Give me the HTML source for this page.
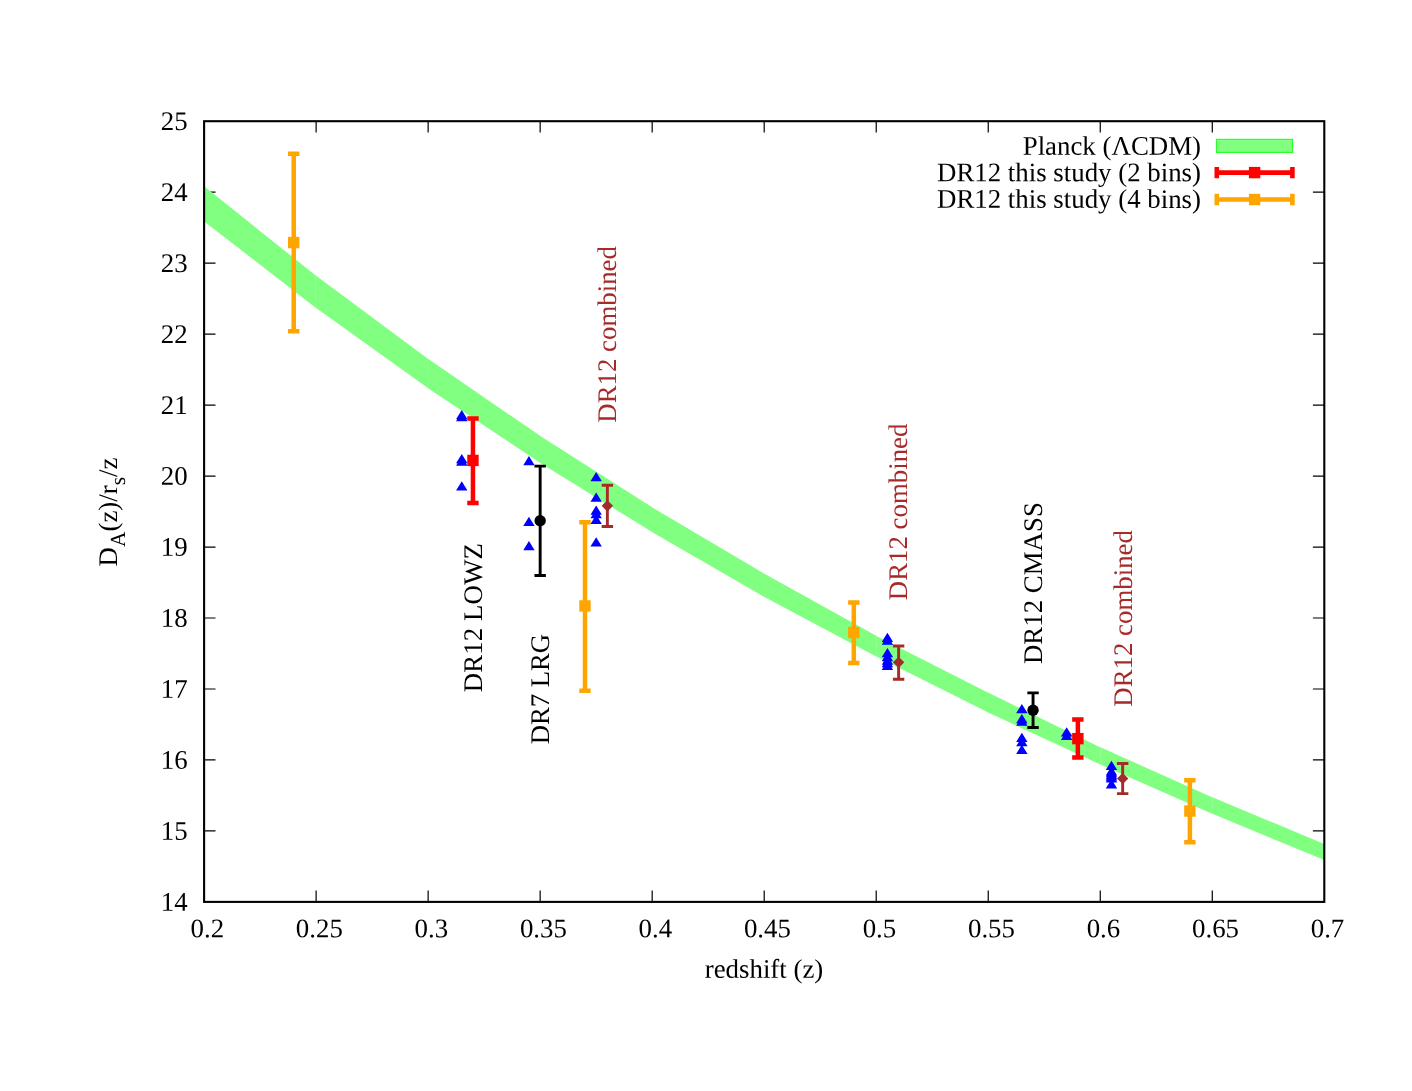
<!DOCTYPE html>
<html><head><meta charset="utf-8"><title>DA(z)/rs/z vs redshift</title>
<style>html,body{margin:0;padding:0;background:#fff}body{width:1412px;height:1091px;overflow:hidden;font-family:"Liberation Serif",serif}</style>
</head><body>
<svg width="1412" height="1091" viewBox="0 0 1412 1091" style="display:block;will-change:transform;font-family:'Liberation Serif',serif;font-size:26.85px;font-kerning:none;text-rendering:geometricPrecision">
<rect width="1412" height="1091" fill="#fff"/>
<path d="M316.12 901.9V890.50M316.12 121.2V132.60M428.14 901.9V890.50M428.14 121.2V132.60M540.16 901.9V890.50M540.16 121.2V132.60M652.18 901.9V890.50M652.18 121.2V132.60M764.20 901.9V890.50M764.20 121.2V132.60M876.22 901.9V890.50M876.22 121.2V132.60M988.24 901.9V890.50M988.24 121.2V132.60M1100.26 901.9V890.50M1100.26 121.2V132.60M1212.28 901.9V890.50M1212.28 121.2V132.60M204.1 830.93H215.50M1324.3 830.93H1312.90M204.1 759.95H215.50M1324.3 759.95H1312.90M204.1 688.98H215.50M1324.3 688.98H1312.90M204.1 618.01H215.50M1324.3 618.01H1312.90M204.1 547.04H215.50M1324.3 547.04H1312.90M204.1 476.06H215.50M1324.3 476.06H1312.90M204.1 405.09H215.50M1324.3 405.09H1312.90M204.1 334.12H215.50M1324.3 334.12H1312.90M204.1 263.15H215.50M1324.3 263.15H1312.90M204.1 192.17H215.50M1324.3 192.17H1312.90" stroke="#000" stroke-width="1.2" fill="none"/>
<path d="M204.1 186.3L315.70 275.50L315.70 307.69L204.1 221.4z" fill="#80ff80"/>
<path d="M315.45 275.3L427.90 358.79L427.90 388.08L315.45 307.5z" fill="#80ff80"/>
<path d="M427.65 358.6L540.10 435.87L540.10 462.87L427.65 387.9z" fill="#80ff80"/>
<path d="M539.85 435.7L652.15 507.36L652.15 532.05L539.85 462.7z" fill="#80ff80"/>
<path d="M651.9 507.2L764.22 573.75L764.22 596.94L651.9 531.9z" fill="#80ff80"/>
<path d="M763.97 573.6L876.65 636.04L876.65 656.63L763.97 596.8z" fill="#80ff80"/>
<path d="M876.4 635.9L988.25 692.73L988.25 712.53L876.4 656.5z" fill="#80ff80"/>
<path d="M988.0 692.6L1100.65 747.42L1100.65 764.62L988.0 712.4z" fill="#80ff80"/>
<path d="M1100.4 747.3L1212.65 797.41L1212.65 813.91L1100.4 764.5z" fill="#80ff80"/>
<path d="M1212.4 797.3L1324.30 844.00L1324.30 860.10L1212.4 813.8z" fill="#80ff80"/>
<path d="M472.95 503.03V418.58M467.25 503.03h11.4M467.25 418.58h11.4" stroke="#ff0000" stroke-width="4.5" fill="none"/><rect x="467.25" y="454.75" width="11.4" height="11.4" fill="#ff0000"/>
<path d="M1077.86 757.47V719.50M1072.16 757.47h11.4M1072.16 719.50h11.4" stroke="#ff0000" stroke-width="4.5" fill="none"/><rect x="1072.16" y="732.96" width="11.4" height="11.4" fill="#ff0000"/>
<path d="M293.72 331.28V153.85M288.02 331.28h11.4M288.02 153.85h11.4" stroke="#ffa500" stroke-width="4.5" fill="none"/><rect x="288.02" y="236.86" width="11.4" height="11.4" fill="#ffa500"/>
<path d="M584.97 690.76V522.20M579.27 690.76h11.4M579.27 522.20h11.4" stroke="#ffa500" stroke-width="4.5" fill="none"/><rect x="579.27" y="600.24" width="11.4" height="11.4" fill="#ffa500"/>
<path d="M853.82 663.08V602.40M848.12 663.08h11.4M848.12 602.40h11.4" stroke="#ffa500" stroke-width="4.5" fill="none"/><rect x="848.12" y="626.86" width="11.4" height="11.4" fill="#ffa500"/>
<path d="M1189.88 842.28V780.32M1184.18 842.28h11.4M1184.18 780.32h11.4" stroke="#ffa500" stroke-width="4.5" fill="none"/><rect x="1184.18" y="805.35" width="11.4" height="11.4" fill="#ffa500"/>
<path d="M461.75 410.00l5.7 9.23h-11.4zM461.75 411.90l5.7 9.23h-11.4zM461.75 454.10l5.7 9.23h-11.4zM461.75 456.40l5.7 9.23h-11.4zM461.75 481.20l5.7 9.23h-11.4zM528.96 455.90l5.7 9.23h-11.4zM528.96 516.80l5.7 9.23h-11.4zM528.96 540.90l5.7 9.23h-11.4zM596.17 471.90l5.7 9.23h-11.4zM596.17 492.40l5.7 9.23h-11.4zM596.17 505.50l5.7 9.23h-11.4zM596.17 508.90l5.7 9.23h-11.4zM596.17 514.70l5.7 9.23h-11.4zM596.17 537.30l5.7 9.23h-11.4zM887.42 632.85l5.7 9.23h-11.4zM887.42 635.50l5.7 9.23h-11.4zM887.42 648.00l5.7 9.23h-11.4zM887.42 651.90l5.7 9.23h-11.4zM887.42 655.50l5.7 9.23h-11.4zM887.42 657.90l5.7 9.23h-11.4zM887.42 660.70l5.7 9.23h-11.4zM1021.85 703.90l5.7 9.23h-11.4zM1021.85 713.90l5.7 9.23h-11.4zM1021.85 716.60l5.7 9.23h-11.4zM1021.85 732.80l5.7 9.23h-11.4zM1021.85 737.00l5.7 9.23h-11.4zM1021.85 744.80l5.7 9.23h-11.4zM1066.65 727.30l5.7 9.23h-11.4zM1066.65 730.70l5.7 9.23h-11.4zM1111.46 760.70l5.7 9.23h-11.4zM1111.46 766.30l5.7 9.23h-11.4zM1111.46 768.10l5.7 9.23h-11.4zM1111.46 769.90l5.7 9.23h-11.4zM1111.46 771.40l5.7 9.23h-11.4zM1111.46 773.20l5.7 9.23h-11.4zM1111.46 779.30l5.7 9.23h-11.4z" fill="#0000ff"/>
<path d="M540.16 575.43V466.13M534.46 575.43h11.4M534.46 466.13h11.4" stroke="#000" stroke-width="2.9" fill="none"/><circle cx="540.16" cy="520.78" r="5.7" fill="#000"/>
<path d="M1033.05 727.52V692.89M1027.35 727.52h11.4M1027.35 692.89h11.4" stroke="#000" stroke-width="2.9" fill="none"/><circle cx="1033.05" cy="710.27" r="5.7" fill="#000"/>
<path d="M607.37 526.45V485.29M601.67 526.45h11.4M601.67 485.29h11.4" stroke="#a52a2a" stroke-width="2.9" fill="none"/><path d="M607.37 500.17l5.7 5.7l-5.7 5.7l-5.7 -5.7z" fill="#a52a2a"/>
<path d="M898.62 679.26V646.04M892.92 679.26h11.4M892.92 646.04h11.4" stroke="#a52a2a" stroke-width="2.9" fill="none"/><path d="M898.62 656.67l5.7 5.7l-5.7 5.7l-5.7 -5.7z" fill="#a52a2a"/>
<path d="M1122.66 793.67V763.50M1116.96 793.67h11.4M1116.96 763.50h11.4" stroke="#a52a2a" stroke-width="2.9" fill="none"/><path d="M1122.66 772.92l5.7 5.7l-5.7 5.7l-5.7 -5.7z" fill="#a52a2a"/>
<rect x="204.1" y="121.2" width="1120.2" height="780.7" fill="none" stroke="#000" stroke-width="2.1"/>
<text transform="translate(187.60 910.70) rotate(0.03)" text-anchor="end">14</text>
<text transform="translate(187.60 839.73) rotate(0.03)" text-anchor="end">15</text>
<text transform="translate(187.60 768.75) rotate(0.03)" text-anchor="end">16</text>
<text transform="translate(187.60 697.78) rotate(0.03)" text-anchor="end">17</text>
<text transform="translate(187.60 626.81) rotate(0.03)" text-anchor="end">18</text>
<text transform="translate(187.60 555.84) rotate(0.03)" text-anchor="end">19</text>
<text transform="translate(187.60 484.86) rotate(0.03)" text-anchor="end">20</text>
<text transform="translate(187.60 413.89) rotate(0.03)" text-anchor="end">21</text>
<text transform="translate(187.60 342.92) rotate(0.03)" text-anchor="end">22</text>
<text transform="translate(187.60 271.95) rotate(0.03)" text-anchor="end">23</text>
<text transform="translate(187.60 200.97) rotate(0.03)" text-anchor="end">24</text>
<text transform="translate(187.60 130.00) rotate(0.03)" text-anchor="end">25</text>
<text transform="translate(207.30 937.20) rotate(0.03)" text-anchor="middle">0.2</text>
<text transform="translate(319.32 937.20) rotate(0.03)" text-anchor="middle">0.25</text>
<text transform="translate(431.34 937.20) rotate(0.03)" text-anchor="middle">0.3</text>
<text transform="translate(543.36 937.20) rotate(0.03)" text-anchor="middle">0.35</text>
<text transform="translate(655.38 937.20) rotate(0.03)" text-anchor="middle">0.4</text>
<text transform="translate(767.40 937.20) rotate(0.03)" text-anchor="middle">0.45</text>
<text transform="translate(879.42 937.20) rotate(0.03)" text-anchor="middle">0.5</text>
<text transform="translate(991.44 937.20) rotate(0.03)" text-anchor="middle">0.55</text>
<text transform="translate(1103.46 937.20) rotate(0.03)" text-anchor="middle">0.6</text>
<text transform="translate(1215.48 937.20) rotate(0.03)" text-anchor="middle">0.65</text>
<text transform="translate(1327.50 937.20) rotate(0.03)" text-anchor="middle">0.7</text>
<text transform="translate(764.00 977.70) rotate(0.03)" text-anchor="middle">redshift (z)</text>
<text transform="translate(116.9 566.4) rotate(-90)">D<tspan font-size="21.48" dy="8">A</tspan><tspan dy="-8">(z)/r</tspan><tspan font-size="21.48" dy="8">s</tspan><tspan dy="-8">/z</tspan></text>
<text transform="translate(481.8 692.3) rotate(-90)" fill="#000" textLength="149.3" lengthAdjust="spacing">DR12 LOWZ</text>
<text transform="translate(549.0 744.2) rotate(-90)" fill="#000" textLength="110.4" lengthAdjust="spacing">DR7 LRG</text>
<text transform="translate(1042.4 664.1) rotate(-90)" fill="#000" textLength="162.0" lengthAdjust="spacing">DR12 CMASS</text>
<text transform="translate(615.8 422.7) rotate(-90)" fill="#a52a2a" textLength="176.6" lengthAdjust="spacing">DR12 combined</text>
<text transform="translate(907.0 600.2) rotate(-90)" fill="#a52a2a" textLength="176.6" lengthAdjust="spacing">DR12 combined</text>
<text transform="translate(1131.8 706.7) rotate(-90)" fill="#a52a2a" textLength="176.6" lengthAdjust="spacing">DR12 combined</text>
<text transform="translate(1201.00 154.85) rotate(0.03)" text-anchor="end">Planck (ΛCDM)</text>
<text transform="translate(1201.00 181.35) rotate(0.03)" text-anchor="end">DR12 this study (2 bins)</text>
<text transform="translate(1201.00 207.90) rotate(0.03)" text-anchor="end">DR12 this study (4 bins)</text>
<rect x="1216.4" y="139.3" width="76.2" height="13.1" fill="#80ff80" stroke="#19ff19" stroke-width="1"/>
<path d="M1216.8 172.6H1292.4M1216.8 166.9v11.4M1292.4 166.9v11.4" stroke="#ff0000" stroke-width="4.6" fill="none"/>
<rect x="1248.8999999999999" y="166.9" width="11.4" height="11.4" fill="#ff0000"/>
<path d="M1216.8 199.5H1292.4M1216.8 193.8v11.4M1292.4 193.8v11.4" stroke="#ffa500" stroke-width="4.6" fill="none"/>
<rect x="1248.8999999999999" y="193.8" width="11.4" height="11.4" fill="#ffa500"/>
</svg>
</body></html>
